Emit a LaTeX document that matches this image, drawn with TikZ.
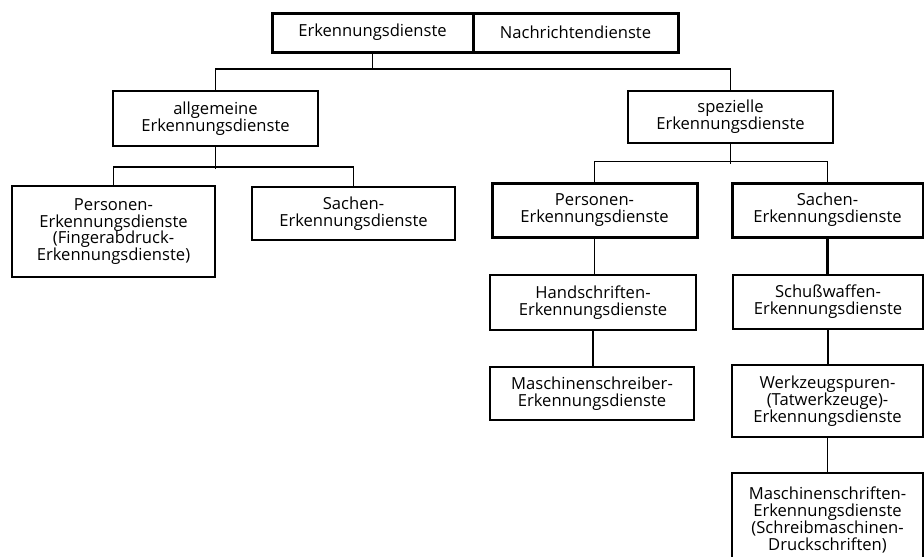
\documentclass[tikz,border=0pt]{standalone}
\usepackage{fontspec}
\setmainfont{Open Sans}
\begin{document}
\begin{tikzpicture}[x=1pt,y=-1pt,
  bx/.style={draw, line width=1.6pt, inner sep=0pt, align=center,
    font=\fontsize{16.6}{16.8}\selectfont},
  thick box/.style={bx, line width=3pt},
  ln/.style={line width=1.6pt},
  heavy ln/.style={line width=2.4pt}]
\useasboundingbox (0,0) rectangle (924,557);
\clip (0,0) rectangle (924,557);
% top
\node[thick box, minimum width=201pt, minimum height=39pt] (erk) at (372.5,32.5) {Erkennungsdienste};
\node[thick box, minimum width=205pt, minimum height=39pt] (nach) at (575.5,32.5) {Nachrichtendienste};
% level 2
\node[bx, minimum width=205pt, minimum height=55pt] (allg) at (215.5,118.5) {allgemeine\\Erkennungsdienste};
\node[bx, minimum width=205pt, minimum height=52pt] (spez) at (730.5,117) {spezielle\\Erkennungsdienste};
% level 3 left
\node[bx, minimum width=203pt, minimum height=91pt] (persL) at (113.5,231.5) {Personen-\\Erkennungsdienste\\(Fingerabdruck-\\Erkennungsdienste)};
\node[bx, minimum width=203pt, minimum height=53pt] (sachL) at (353.5,213.5) {Sachen-\\Erkennungsdienste};
% level 3 right
\node[thick box, minimum width=205pt, minimum height=54pt] (persR) at (594.5,210) {Personen-\\Erkennungsdienste};
\node[thick box, minimum width=191pt, minimum height=54pt] (sachR) at (827.5,210) {Sachen-\\Erkennungsdienste};
% right columns
\node[bx, minimum width=206pt, minimum height=55pt] (hand) at (593,302.5) {Handschriften-\\Erkennungsdienste};
\node[bx, minimum width=204pt, minimum height=53pt] (masch) at (592,393.5) {Maschinenschreiber-\\Erkennungsdienste};
\node[bx, minimum width=190pt, minimum height=54pt] (schuss) at (828,302) {Schußwaffen-\\Erkennungsdienste};
\node[bx, minimum width=191pt, minimum height=72pt] (werk) at (827.5,401) {Werkzeugspuren-\\(Tatwerkzeuge)-\\Erkennungsdienste};
\node[bx, minimum width=191pt, minimum height=94pt] (maschS) at (827.5,520) {Maschinenschriften-\\Erkennungsdienste\\(Schreibmaschinen-\\Druckschriften)};
% connectors
\draw[ln] (erk.south) -- (erk.south |- 0,70);
\draw[ln] (allg.north) -- ++(0,-21) -| (spez.north);
\draw[ln] (allg.south) -- ++(0,22);
\draw[ln] (persL.north) -- ++(0,-18) -| (sachL.north);
\draw[ln] (spez.south) -- ++(0,20);
\draw[ln] (persR.north) -- ++(0,-20) -| (sachR.north);
\draw[ln] (persR.south) -- (persR.south |- hand.north);
\draw[heavy ln] (hand.south) -- (hand.south |- masch.north);
\draw[heavy ln] (sachR.south) -- (sachR.south |- schuss.north);
\draw[heavy ln] (schuss.south) -- (schuss.south |- werk.north);
\draw[ln] (werk.south) -- (werk.south |- maschS.north);
\end{tikzpicture}
\end{document}
